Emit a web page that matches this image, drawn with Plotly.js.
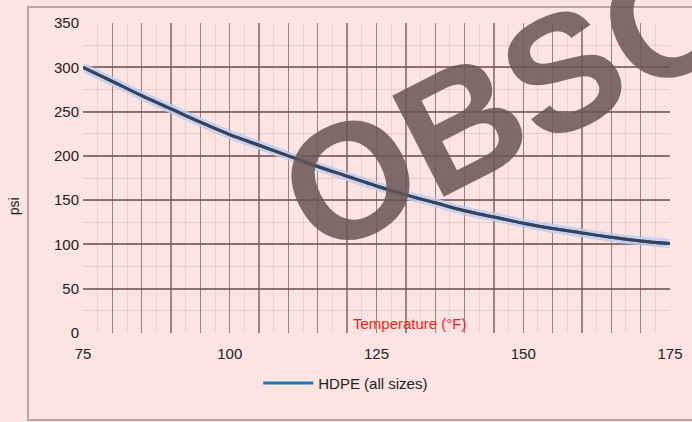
<!DOCTYPE html>
<html><head><meta charset="utf-8">
<script src="https://cdn.plot.ly/plotly-3.0.1.min.js"></script>
<style>html,body{margin:0;padding:0;background:#fce4e3;}</style>
</head><body>
<div id="chart" style="width:692px;height:422px;"></div>
<script>
var temperatureF = [75,80,85,90,95,100,105,110,115,120,125,130,135,140,145,150,155,160,165,170,175];
var pressurePsi = [300,284,268,253,238,224,212,200,188,177,166,156,147,138,131,124,118,113,108,104,101];
var seriesName = 'HDPE (all sizes)';
var xTicks = [75,100,125,150,175];
var yTicks = [0,50,100,150,200,250,300,350];
var xGrid = [75,80,85,90,95,100,105,110,115,120,125,130,135,140,145,150,155,160,165,170,175];
var watermark = 'OBSOLETE';

var traces = [
  {x: temperatureF, y: pressurePsi, mode:'lines', line:{shape:'spline', color:'rgba(190,205,235,0.85)', width:9}, showlegend:false, hoverinfo:'skip'},
  {x: temperatureF, y: pressurePsi, mode:'lines', name: seriesName, line:{shape:'spline', color:'#1f77b4', width:3}, showlegend:true},
  {x: temperatureF, y: pressurePsi, mode:'lines', line:{shape:'spline', color:'#3a4159', width:3}, showlegend:false}
];

var layout = {
  width:692, height:422,
  margin:{l:83, r:22, t:23, b:89},
  paper_bgcolor:'#fce4e3', plot_bgcolor:'#fce4e3',
  font:{family:'Liberation Sans, Arial, sans-serif', size:15, color:'#222'},
  xaxis:{range:[75,175], tickvals:xGrid, ticktext:xGrid.map(function(v){return xTicks.indexOf(v)>=0 ? String(v) : '';}),
    showgrid:true, gridcolor:'rgba(125,90,90,0.7)', gridwidth:1.3, zeroline:false, showline:false, ticks:'', ticklabelstandoff:10,
    minor:{dtick:2.5, showgrid:true, gridcolor:'rgba(160,120,120,0.18)', gridwidth:1},
    title:{text:''}},
  yaxis:{range:[0,350], tickvals:yTicks, showgrid:true, gridcolor:'rgba(120,85,85,0.8)', gridwidth:2, zeroline:false, showline:false, ticks:'', ticklabelstandoff:3,
    minor:{dtick:25, showgrid:true, gridcolor:'rgba(160,120,120,0.2)', gridwidth:1},
    title:{text:''}},
  legend:{orientation:'h', x:0.2985, xanchor:'left', y:-0.162, yanchor:'middle', bgcolor:'rgba(0,0,0,0)', font:{size:15}, itemwidth:50},
  annotations:[
    {xref:'paper', yref:'paper', x:-0.117, y:0.41, text:'psi', textangle:-90, showarrow:false, font:{size:14, color:'#222'}, xanchor:'center', yanchor:'middle'},
    {xref:'paper', yref:'paper', x:0.557, y:0.03, text:'Temperature (°F)', showarrow:false, font:{color:'#ff1a1a', size:15}, xanchor:'center', yanchor:'middle'},
    {xref:'paper', yref:'paper', x:1.0485, y:1.066, text:'<b>' + watermark + '</b>', showarrow:false, textangle:-27, font:{family:'Liberation Sans, Arial, sans-serif', size:165, color:'rgba(105,85,85,0.85)'}, xanchor:'center', yanchor:'middle'}
  ],
  shapes:[
    {type:'rect', xref:'paper', yref:'paper', x0:-0.0937, x1:1.05, y0:-0.2806, y1:1.0516, line:{color:'rgba(150,120,120,0.6)', width:2}, layer:'below'}
  ]
};
Plotly.newPlot('chart', traces, layout, {displayModeBar:false, staticPlot:true});
</script>
</body></html>
